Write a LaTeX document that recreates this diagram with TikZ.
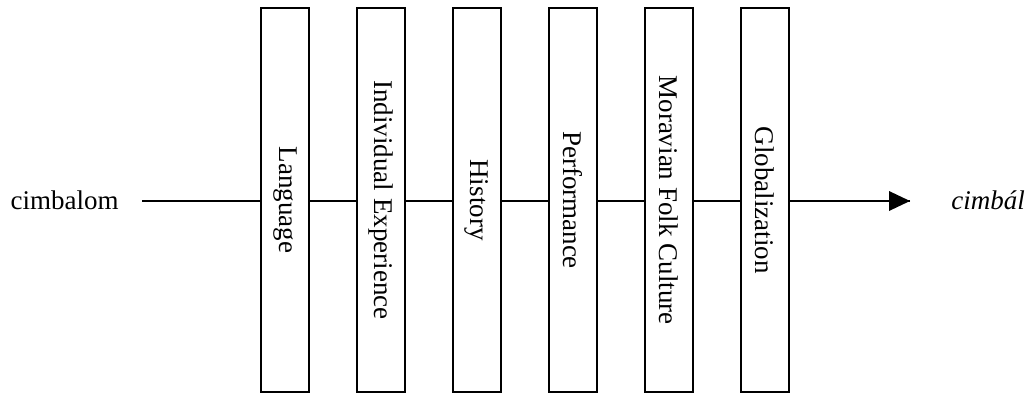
\documentclass[tikz,border=0pt]{standalone}
\usepackage{fontspec}
\setmainfont{Liberation Serif}
\begin{document}
\begin{tikzpicture}[x=1pt,y=-1pt,
  lens/.style={draw=black,line width=2pt,fill=white,minimum width=48pt,minimum height=384pt,inner sep=0pt,anchor=center},
  lbl/.style={font=\fontsize{27}{32}\selectfont,rotate=-90},
  word/.style={font=\fontsize{27}{32}\selectfont,inner sep=0pt}]
\useasboundingbox (0,0) rectangle (1030,394);
\node[word] (src) at (64.5,200) {cimbalom};
\node[word] (dst) at (988,200) {\itshape cimb\'al};
\coordinate (start) at (142,201);
\coordinate (tip) at (910,201);
\draw[line width=2pt] (start) -- (tip);
\fill (tip) -- ++(-21,-10) -- ++(0,20) -- cycle;
\node[lens] (b1) at (285,200) {};
\node[lens] (b2) at (381,200) {};
\node[lens] (b3) at (477,200) {};
\node[lens] (b4) at (573,200) {};
\node[lens] (b5) at (669,200) {};
\node[lens] (b6) at (765,200) {};
\node[lbl] at (b1) {Language};
\node[lbl] at (b2) {Individual Experience};
\node[lbl] at (b3) {History};
\node[lbl] at (b4) {Performance};
\node[lbl] at (b5) {Moravian Folk Culture};
\node[lbl] at (b6) {Globalization};
\end{tikzpicture}
\end{document}
